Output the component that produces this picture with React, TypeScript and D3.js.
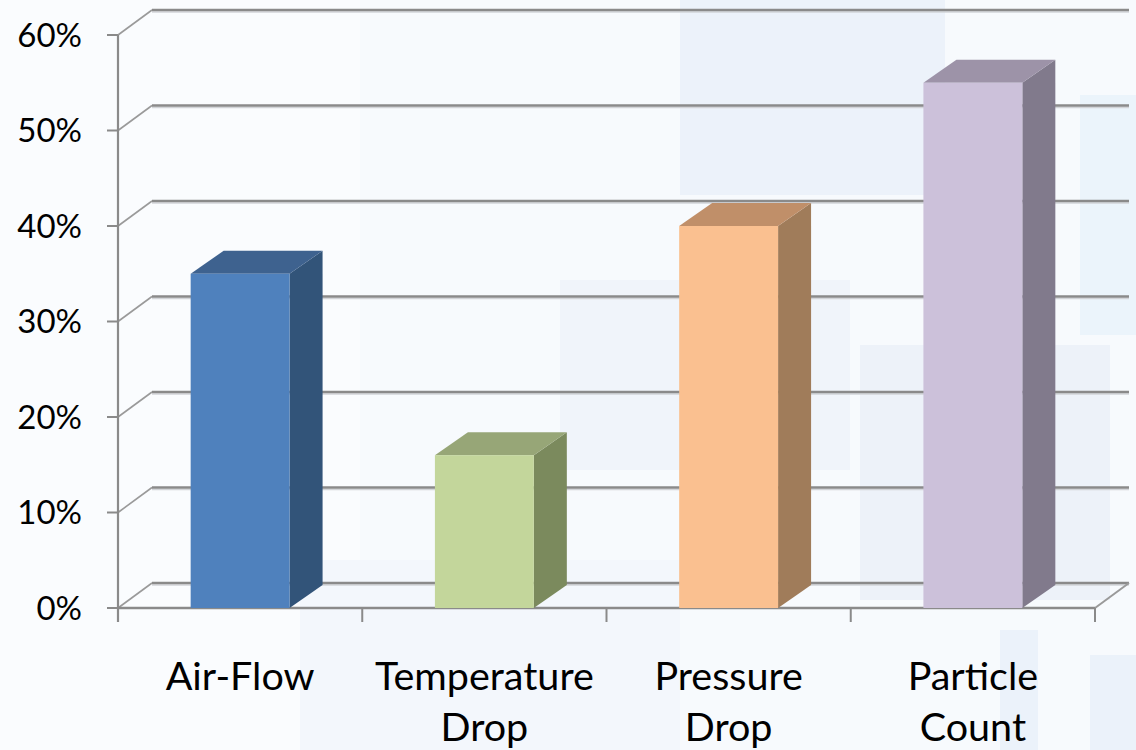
import React from "react";
import * as d3 from "d3";

const categories = ["Air-Flow", "Temperature Drop", "Pressure Drop", "Particle Count"];
const categoryLines = [["Air-Flow"], ["Temperature", "Drop"], ["Pressure", "Drop"], ["Particle", "Count"]];
const values = [0.35, 0.16, 0.40, 0.55];
const yTicks = [0, 0.1, 0.2, 0.3, 0.4, 0.5, 0.6];
const frontColors = ["#4f81bd", "#c3d69b", "#fac090", "#ccc1da"];
const topColors = ["#3e628f", "#97a677", "#c08f69", "#9d93a8"];
const sideColors = ["#325479", "#7b8a5d", "#a07c5a", "#817a8c"];

const W = 1136;
const H = 750;
const left = 118;
const right = 1095;
const bottom = 608;
const top = 35;
const wallDx = 34;
const wallDy = -25;
const barDx = 33;
const barDy = -23;

export default function App() {
  const y = d3.scaleLinear().domain([0, 0.6]).range([bottom, top]);
  const x = d3
    .scaleBand<string>()
    .domain(categories)
    .range([left, right])
    .paddingInner(0.595)
    .paddingOuter(0.2975);
  const step = x.step();
  const bw = x.bandwidth();
  const fmt = d3.format(".0%");
  const font = "Lato, 'Open Sans', sans-serif";
  const grid = "#8a8a8a";

  return (
    <svg
      width={W}
      height={H}
      style={{ position: "absolute", left: 0, top: 0, display: "block" }}
    >
      {/* background */}
      <rect x={0} y={0} width={W} height={H} fill="#f7fafd" />
      <rect x={0} y={0} width={360} height={750} fill="#fafcfe" />
      <rect x={680} y={0} width={265} height={195} fill="#ecf2fa" />
      <rect x={560} y={280} width={290} height={190} fill="#f0f4fa" />
      <rect x={860} y={345} width={250} height={255} fill="#edf2f9" />
      <rect x={1080} y={95} width={56} height={240} fill="#ebf4fb" />
      <rect x={300} y={560} width={380} height={190} fill="#f3f7fc" />
      <rect x={1000} y={630} width={38} height={120} fill="#ebf2fa" />
      <rect x={1090} y={655} width={46} height={95} fill="#ebf2fa" />

      {/* back wall gridlines and left wall diagonals */}
      {yTicks.map((t) => (
        <g key={"g" + t}>
          <line
            x1={left}
            y1={y(t)}
            x2={left + wallDx}
            y2={y(t) + wallDy}
            stroke="#9a9a9a"
            strokeWidth={1.6}
          />
          <line
            x1={left + wallDx}
            y1={y(t) + wallDy + 2}
            x2={right + wallDx}
            y2={y(t) + wallDy + 2}
            stroke="#d2d4d8"
            strokeWidth={1.5}
          />
          <line
            x1={left + wallDx}
            y1={y(t) + wallDy}
            x2={right + wallDx}
            y2={y(t) + wallDy}
            stroke={grid}
            strokeWidth={2.6}
          />
        </g>
      ))}

      {/* floor */}
      <line x1={right} y1={bottom} x2={right + wallDx} y2={bottom + wallDy} stroke="#9a9a9a" strokeWidth={2} />
      <line x1={left} y1={bottom} x2={right} y2={bottom} stroke={grid} strokeWidth={2.6} />

      {/* value axis */}
      <line x1={left} y1={top} x2={left} y2={bottom + 14} stroke={grid} strokeWidth={2.2} />
      {yTicks.map((t) => (
        <g key={"t" + t}>
          <line x1={left - 11} y1={y(t)} x2={left} y2={y(t)} stroke={grid} strokeWidth={2} />
          <text
            x={82}
            y={y(t)}
            dy="0.36em"
            textAnchor="end"
            fontFamily={font}
            fontSize={33}
            fill="#000"
          >
            {fmt(t)}
          </text>
        </g>
      ))}

      {/* category ticks */}
      {d3.range(categories.length + 1).map((i) => (
        <line
          key={"c" + i}
          x1={left + i * step}
          y1={bottom}
          x2={left + i * step}
          y2={bottom + 14}
          stroke={grid}
          strokeWidth={2}
        />
      ))}

      {/* bars */}
      {categories.map((c, i) => {
        const x0 = x(c) as number;
        const x1 = x0 + bw;
        const yt = y(values[i]);
        const yb = y(0);
        const topPts = `${x0},${yt} ${x0 + barDx},${yt + barDy} ${x1 + barDx},${yt + barDy} ${x1},${yt}`;
        const sidePts = `${x1},${yt} ${x1 + barDx},${yt + barDy} ${x1 + barDx},${yb + barDy} ${x1},${yb}`;
        return (
          <g key={c}>
            <polygon points={sidePts} fill={sideColors[i]} />
            <polygon points={topPts} fill={topColors[i]} />
            <rect x={x0} y={yt} width={bw} height={yb - yt} fill={frontColors[i]} />
          </g>
        );
      })}

      {/* category labels */}
      {categories.map((c, i) => {
        const cx = (x(c) as number) + bw / 2;
        return (
          <text
            key={"l" + c}
            x={cx}
            y={690}
            textAnchor="middle"
            fontFamily={font}
            fontSize={39.5}
            fill="#000"
          >
            {categoryLines[i].map((ln, j) => (
              <tspan key={j} x={cx} y={690 + j * 51}>
                {ln}
              </tspan>
            ))}
          </text>
        );
      })}
    </svg>
  );
}
